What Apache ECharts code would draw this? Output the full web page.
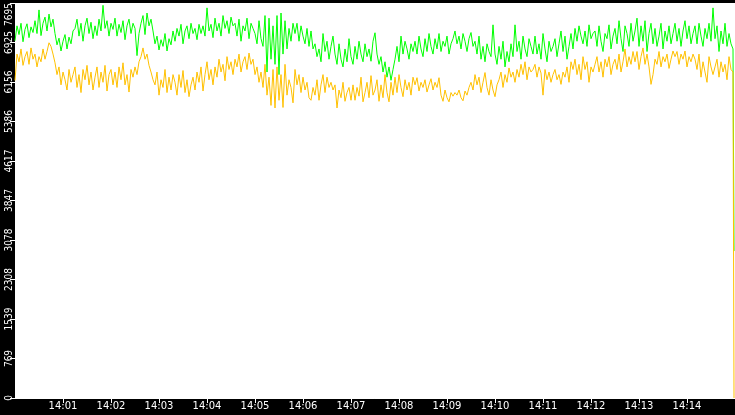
<!DOCTYPE html>
<html>
<head>
<meta charset="utf-8">
<script src="https://cdn.jsdelivr.net/npm/echarts@6/dist/echarts.min.js"></script>
<style>
  html, body { margin: 0; padding: 0; background: #000; }
  #main { width: 735px; height: 415px; }
</style>
</head>
<body>
<div id="main"></div>
<script>
///*********** Data part ***************///

// one sample every 2.5 seconds from 14:00:00, last sample is the drop at the very end
var startTime = new Date(2024, 0, 1, 14, 0, 0).getTime();
var stepMs = 2500;
var endSampleTime = startTime + 898750;

var greenValues = [
  6960, 7250, 7080, 7300, 6940, 7180, 7290, 7020, 7230, 7120,
  7350, 7100, 7560, 7060, 7300, 7420, 7150, 7480, 7230, 7380,
  7100, 6880, 7010, 6760, 6950, 7080, 6800, 7030, 6900, 7150,
  7200, 7380, 7050, 7300, 6950, 7250, 7400, 7100, 7320, 7000,
  7250, 7060, 7380, 7150, 7650, 7200, 7350, 7050, 7300, 7180,
  7400, 7050, 7280, 7120, 7350, 6980, 7250, 7380, 7100, 7300,
  7200, 6670, 7100, 7300, 7450, 7080, 7500, 7250, 7380, 7150,
  6900, 7050, 6780, 6980, 6850, 7100, 6760, 7000, 6880, 7150,
  6950, 7200, 7050, 7280, 6900, 7150, 7250, 7000, 7300, 7100,
  7200, 6980, 7280, 7100, 7250, 7050, 7600, 7150, 7280, 7020,
  7400, 7150, 7300, 7050, 7450, 7200, 7350, 7100, 7420, 7250,
  7300, 7050, 7380, 6950, 7250, 7150, 7400, 7000, 7300, 7200,
  7100, 6900, 7350, 7000, 6850, 7450, 6350, 7400, 6600, 7250,
  6500, 7450, 6300, 7500, 6700, 7350, 6800, 7200, 6950, 7300,
  7100, 7300, 6950, 7250, 7050, 6900, 7200, 6850, 7150, 6800,
  6900, 6650, 6800, 6550, 7100, 6750, 6950, 6600, 6850, 7050,
  6700, 6500, 6900, 6600, 6450, 6800, 6550, 7000, 6650, 6500,
  6850, 6600, 6950, 6700, 6550, 6900, 6650, 6800, 6560, 6950,
  7115, 6700, 6500, 6650, 6350, 6550, 6250, 6450, 6190, 6400,
  6600, 6850, 6550, 7050, 6700, 6950, 6800, 6600, 6900, 6750,
  6950, 6700, 7050, 6800, 6650, 7000, 6750, 7100, 6850, 6700,
  7000, 6800, 7100, 6750, 6950, 6850, 7050, 6700, 6900, 7000,
  7150, 6900, 7050, 6800, 7100, 6950, 6750, 7000, 7120, 6850,
  6950, 6700, 7050, 6600, 6850, 6550, 6900, 6750, 6650, 7270,
  6700, 6500, 6850, 6600, 6950, 6450, 6750, 6550, 6900, 6650,
  7270, 6750, 6950, 6600, 7050, 6800, 6650, 7000, 6850, 6700,
  7050, 6700, 6900, 6600, 7100, 6800, 6550, 6950, 6750, 6850,
  7000, 6650, 6900, 7150, 6750, 7050, 6600, 6850, 7100, 6800,
  7200, 6950, 7250, 7050, 6900, 7150, 6850, 7270, 7000, 7100,
  7150, 6850, 7250, 6950, 6750, 7100, 7000, 7270, 6800, 7050,
  7200, 6900, 7350, 7000, 6750, 7250, 7100, 6850, 7300, 6950,
  7150, 7400, 6850, 7250, 6950, 7350, 6750, 7100, 7300, 6900,
  7200, 6850, 7050, 7300, 6800, 7150, 6950, 7250, 6900, 7100,
  7300, 6950, 7200, 6850, 7150, 7350, 7000, 7250, 6900, 7100,
  7250, 6900, 7300, 7050, 6850, 7200, 7000, 7300, 6950, 7600,
  7000, 7250, 6750, 7150, 6900, 7300, 6850, 7100, 6900, 6800
];
var greenLast = 2863;

var orangeValues = [
  6187, 6700, 6550, 6800, 6480, 6650, 6750, 6500, 6820, 6600,
  6700, 6450, 6650, 6550, 6800, 6600, 6750, 6920, 6850, 6700,
  6530, 6300, 6450, 6100, 6350, 6200, 6000, 6400, 6150, 6300,
  6450, 6050, 6300, 5950, 6400, 6200, 6480, 6100, 6350, 6000,
  6250, 6450, 6050, 6350, 6150, 6480, 5980, 6300, 6400, 6100,
  6350, 6050, 6450, 6200, 6530, 6100, 6300, 5960, 6400, 6250,
  6450, 6300, 6550, 6650, 6820, 6600, 6700, 6480, 6350, 6200,
  6100, 6350, 5900, 6200, 6050, 6400, 5950, 6250, 6000, 6300,
  6150, 5900, 6300, 6050, 6380, 5950, 6200, 5870, 6100, 6250,
  6000, 6350, 6150, 6450, 5980, 6300, 6550, 6200, 6400, 6100,
  6450, 6250, 6600, 6350, 6500, 6180, 6650, 6400, 6550, 6300,
  6600, 6450, 6700, 6350, 6550, 6650, 6400, 6720, 6500, 6600,
  6300, 6450, 6150, 6350, 6050, 6500, 5900, 6250, 5700, 6400,
  5650, 6450, 5800, 6300, 5660, 6500, 5900, 6200, 6050, 5750,
  6400, 6100, 6300, 5950, 6250, 6000, 6150, 5850, 5800, 6050,
  5900, 6200, 5800, 6100, 6300, 5950, 6250, 6050, 6150, 6000,
  6100, 5650, 6000, 5850, 6150, 5780, 5950, 6050, 5800, 6100,
  5800, 6050, 5880, 6250, 5770, 5950, 6150, 5850, 6280, 5900,
  6000, 6200, 5780, 6100, 5850, 6300, 5950, 5770, 6150, 5900,
  6250, 5950, 6300, 6050, 5870, 6200, 6000, 6150, 5900, 6250,
  6100, 6240, 5980, 6150, 6050, 6200, 5960, 6100, 6220, 6000,
  6150, 6050, 6240, 5900, 5780, 6000, 5850, 5770, 5950, 5880,
  5950, 5900, 6000, 5850, 5790, 5980, 5900, 6050, 6150, 6000,
  6300, 6100, 6250, 5950, 6150, 6340, 6050, 5900, 6200, 6000,
  5870, 6100, 6200, 6350, 6050, 6300, 6150, 6430, 6250, 6350,
  6150, 6400, 6250, 6500, 6300, 6550, 6200, 6450, 6350, 6400,
  6500, 6250, 6450, 6330, 5900, 6400, 6200, 6350, 6150, 6300,
  6400, 6200, 6300, 6110, 6350, 6250, 6450, 6150, 6550, 6400,
  6600, 6300, 6500, 6200, 6650, 6400, 6550, 6150, 6450, 6350,
  6500, 6650, 6350, 6550, 6250, 6600, 6450, 6650, 6300, 6500,
  6600, 6400, 6700, 6350, 6550, 6800, 6450, 6650, 6500, 6750,
  6550, 6750, 6400, 6650, 6820, 6500, 6700, 6450, 6110, 6300,
  6600, 6500, 6750, 6450, 6650, 6550, 6700, 6420, 6600, 6760,
  6650, 6750, 6500, 6700, 6600, 6760, 6450, 6650, 6550, 6700,
  6600, 6400, 6700, 6250, 6550, 6350, 6150, 6650, 6450, 6300,
  6450, 6600, 6250, 6550, 6350, 6500, 6200, 6650, 6400, 6350
];
var orangeLast = 0;

var timeLabels = ['14:01', '14:02', '14:03', '14:04', '14:05', '14:06', '14:07',
  '14:08', '14:09', '14:10', '14:11', '14:12', '14:13', '14:14'];

function toPairs(values, last) {
  var out = [];
  for (var i = 0; i < values.length; i++) {
    out.push([startTime + i * stepMs, values[i]]);
  }
  out.push([endSampleTime, last]);
  return out;
}

///*********** Chart part ***************///

var myChart = echarts.init(document.getElementById('main'));

var option = {
  animation: false,
  backgroundColor: '#000',
  grid: {
    left: 15,
    right: 0,
    top: 1,
    bottom: 17,
    show: true,
    backgroundColor: '#fff',
    borderWidth: 0
  },
  xAxis: {
    type: 'value',
    min: startTime,
    max: startTime + 15 * 60000,
    interval: 60000,
    axisLine: { show: true, lineStyle: { color: '#fff', width: 1 } },
    axisTick: { show: true, length: 5, lineStyle: { color: '#fff' } },
    splitLine: { show: false },
    axisLabel: {
      color: '#fff',
      fontFamily: 'DejaVu Sans',
      fontSize: 10,
      margin: 3,
      showMinLabel: false,
      showMaxLabel: false,
      formatter: function (val) {
        var label = echarts.time.format(new Date(val), '{HH}:{mm}', false);
        return timeLabels.indexOf(label) >= 0 ? label : '';
      }
    }
  },
  yAxis: {
    type: 'value',
    min: 0,
    max: 7695,
    interval: 769.5,
    axisLine: { show: false },
    axisTick: { show: true, length: 5, lineStyle: { color: '#fff' } },
    splitLine: { show: false },
    axisLabel: {
      color: '#fff',
      rotate: 90,
      margin: 1,
      fontFamily: 'Liberation Sans Narrow, DejaVu Sans Condensed, sans-serif',
      fontSize: 10,
      alignMaxLabel: 'right',
      formatter: function (v) { return String(Math.floor(v)); }
    }
  },
  series: [
    {
      name: 'green',
      type: 'line',
      showSymbol: false,
      data: toPairs(greenValues, greenLast),
      lineStyle: { color: '#00ff00', width: 1 },
      itemStyle: { color: '#00ff00' }
    },
    {
      name: 'orange',
      type: 'line',
      showSymbol: false,
      data: toPairs(orangeValues, orangeLast),
      lineStyle: { color: '#ffc000', width: 1 },
      itemStyle: { color: '#ffc000' }
    }
  ]
};

option && myChart.setOption(option);
</script>
</body>
</html>
